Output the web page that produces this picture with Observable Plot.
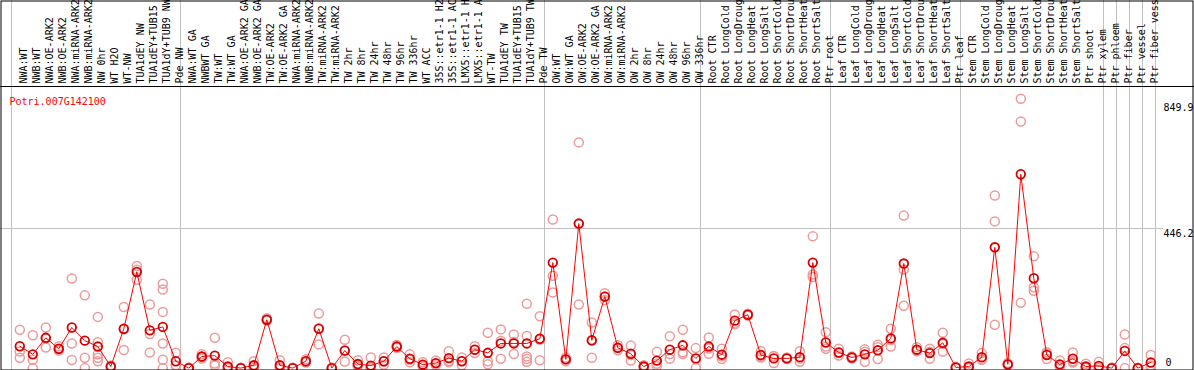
<!DOCTYPE html>
<html>
<head>
<meta charset="utf-8">
<script src="https://cdn.jsdelivr.net/npm/d3@7"></script>
<script src="https://cdn.jsdelivr.net/npm/@observablehq/plot@0.6"></script>
<style>
  html, body { margin: 0; padding: 0; background: #fff; }
</style>
</head>
<body>
<div id="chart"></div>
<script>
// ---------------- data ----------------
const geneId = "Potri.007G142100";

const sampleLabels = [
  "NWA:WT", "NWB:WT", "NWA:OE-ARK2", "NWB:OE-ARK2", "NWA:miRNA-ARK2", "NWB:miRNA-ARK2",
  "NW 0hr", "WT H2O", "WT-NW", "TUA1dEY NW", "TUA1dEY+TUB15", "TUA1dY+TUB9 NW", "Pde NW",
  "NWA:WT GA", "NWBWT GA", "TW:WT", "TW:WT GA", "NWA:OE-ARK2 GA", "NWB:OE-ARK2 GA",
  "TW:OE-ARK2", "TW:OE-ARK2 GA", "NWA:miRNA-ARK2", "NWB:miRNA-ARK2", "TW:miRNA-ARK2",
  "TW:miRNA-ARK2", "TW 2hr", "TW 8hr", "TW 24hr", "TW 48hr", "TW 96hr", "TW 336hr",
  "WT ACC", "35S::etr1-1 H2", "35S::etr1-1 AC", "LMX5::etr1-1 H", "LMX5::etr1-1 A",
  "WT-TW", "TUA1dEY TW", "TUA1dEY+TUB15", "TUA1dY+TUB9 TW", "Pde TW",
  "OW:WT", "OW:WT GA", "OW:OE-ARK2", "OW:OE-ARK2 GA", "OW:miRNA-ARK2", "OW:miRNA-ARK2",
  "OW 2hr", "OW 8hr", "OW 24hr", "OW 48hr", "OW 96hr", "OW 336hr",
  "Root CTR", "Root LongCold", "Root LongDroug", "Root LongHeat", "Root LongSalt",
  "Root ShortCold", "Root ShortDrou", "Root ShortHeat", "Root ShortSalt", "Ptr root",
  "Leaf CTR", "Leaf LongCold", "Leaf LongDroug", "Leaf LongHeat", "Leaf LongSalt",
  "Leaf ShortCold", "Leaf ShortDrou", "Leaf ShortHeat", "Leaf ShortSalt", "Ptr leaf",
  "Stem CTR", "Stem LongCold", "Stem LongDroug", "Stem LongHeat", "Stem LongSalt",
  "Stem ShortCold", "Stem ShortDrou", "Stem ShortHeat", "Stem ShortSalt", "Ptr shoot",
  "Ptr xylem", "Ptr phloem", "Ptr fiber", "Ptr vessel", "Ptr fiber vess"
];

const meanValues = [
  70, 44, 97, 62, 130, 88, 69, 5, 126, 308, 121, 132, 22,
  0, 37, 40, 5, 0, 9, 155, 9, 0, 22, 126, 0, 56, 13, 8, 22, 69, 30, 11, 16, 32, 22, 59, 49, 79, 79, 79, 94,
  338, 28, 463, 89, 229, 65, 46, 5, 24, 59, 73, 31,
  69, 43, 152, 171, 42, 31, 31, 35, 338, 82,
  50, 34, 44, 57, 95, 335, 59, 48, 81, 2,
  5, 35, 387, 12, 621, 288, 42, 12, 30, 5, 7,
  0, 55, 0, 18
];

const replicateValues = [
  [123, 53, 33], [105, 27, 0], [130, 66, 95], [70, 60, 56], [287, 79, 26], [233, 33, 0],
  [164, 83, 44, 33, 22], [8, 4, 3], [196, 58, 124], [327, 315, 283], [204, 50, 109],
  [270, 252, 180, 79, 27, 0], [49, 9, 8],
  [2, 0, 0], [44, 36, 31], [97, 15, 8], [19, 0, 0], [1, 0, 0], [22, 5, 0], [160, 153, 152],
  [25, 2, 0], [1, 0, 0], [28, 20, 18], [175, 76, 127], [1, 0, 0], [91, 21, 56], [25, 5, 9],
  [34, 0, 0, 0], [34, 11, 21], [74, 69, 64], [44, 19, 27], [19, 4, 10], [24, 9, 15],
  [54, 19, 23], [34, 9, 23], [70, 48, 59], [113, 22, 12], [124, 87, 30], [108, 45, 84],
  [206, 103, 37, 29, 20], [166, 25, 91],
  [476, 242, 296], [22, 34, 28], [723, 204, 462], [146, 33, 88], [240, 218, 229], [73, 57, 65],
  [72, 24, 42], [9, 3, 3], [52, 6, 14], [102, 30, 45], [123, 45, 51], [64, 0, 29],
  [98, 46, 63], [62, 29, 38], [172, 140, 144], [174, 168, 171], [54, 34, 38], [16, 39, 38],
  [29, 34, 30], [54, 20, 31], [422, 300, 292], [115, 62, 69],
  [62, 40, 48], [37, 31, 34], [60, 20, 52], [75, 29, 67], [126, 69, 90], [489, 316, 200],
  [67, 54, 56], [62, 30, 52], [113, 53, 77], [4, 2, 0],
  [15, 1, 0], [48, 27, 30], [553, 470, 139], [16, 9, 11], [863, 790, 209], [358, 259, 248],
  [46, 29, 51], [24, 7, 5], [50, 18, 22], [14, 1, 0], [20, 1, 0],
  [1, 0, 0], [108, 64, 0], [1, 0, 0], [42, 8, 4]
];

// first sample index of each group (last entry closes the final group)
const groupStarts = [0, 13, 41, 53, 63, 73, 84, 85, 86, 87, 88];

const yTicks = [0, 446.2, 849.9];
const yTickLabels = ["0", "446.2", "849.9"];
const yGridTicks = [446.2];

// ---------------- build ----------------
const samples = sampleLabels.map((label, i) => ({ i, label, mean: meanValues[i] }));
const reps = replicateValues.flatMap((vals, i) => vals.map(v => ({ i, v })));
const tickRows = yTicks.map((v, k) => ({ v, label: yTickLabels[k] }));

const W = 1194, H = 370;
const FONT = "'DejaVu Sans Mono', 'Liberation Mono', monospace";
const labelLineY = 86;

const labelSeparator = () => {
  const l = document.createElementNS("http://www.w3.org/2000/svg", "line");
  l.setAttribute("x1", 0);
  l.setAttribute("x2", W);
  l.setAttribute("y1", labelLineY + 0.5);
  l.setAttribute("y2", labelLineY + 0.5);
  l.setAttribute("stroke", "black");
  l.setAttribute("stroke-width", 1);
  return l;
};

const chart = Plot.plot({
  width: W,
  height: H,
  marginTop: 0, marginRight: 0, marginBottom: 0, marginLeft: 0,
  style: { fontFamily: FONT, fontSize: "10px", background: "white", overflow: "hidden" },
  x: { type: "linear", domain: [0, 87], insetLeft: 19.3, insetRight: 43.7, axis: null },
  y: { type: "linear", domain: [0, 849.9], insetTop: 102.3, insetBottom: 2.4, axis: null },
  marks: [
    // group separators
    Plot.ruleX(groupStarts, { x: s => s - 0.62, stroke: "#c0c0c0", strokeWidth: 1, shapeRendering: "crispEdges" }),
    // horizontal grid line
    Plot.ruleY(yGridTicks, { stroke: "#c0c0c0", strokeWidth: 1, insetRight: 31, shapeRendering: "crispEdges" }),
    // label area separator
    labelSeparator,
    // sample labels (vertical)
    Plot.text(samples, {
      x: "i", text: "label", frameAnchor: "top", dy: 83,
      rotate: -90, textAnchor: "start", fill: "black", fontSize: 10
    }),
    // gene id
    Plot.text([geneId], {
      text: d => d, frameAnchor: "top-left", dx: 9, dy: 97,
      textAnchor: "start", fill: "#ff0000", fontSize: 10
    }),
    // y tick labels
    Plot.text(tickRows.filter(d => d.v > 0), {
      y: "v", text: "label", frameAnchor: "right", dx: -31, dy: 4.7,
      textAnchor: "start", fill: "black", fontSize: 10
    }),
    Plot.text(tickRows.filter(d => d.v === 0), {
      y: "v", text: "label", frameAnchor: "right", dx: -29, dy: -5.6,
      textAnchor: "start", fill: "black", fontSize: 10
    }),
    // replicates
    Plot.dot(reps, { x: "i", y: "v", r: 4.5, stroke: "#ee9a9a", strokeWidth: 1.5, fill: "none" }),
    // mean line
    Plot.line(samples, { x: "i", y: "mean", stroke: "#ff0000", strokeWidth: 1 }),
    // mean dots
    Plot.dot(samples, { x: "i", y: "mean", r: 4.3, stroke: "#d40000", strokeWidth: 1.8, fill: "none" }),
    // outer frame
    Plot.frame({ stroke: "black", insetTop: 0.5, insetLeft: 0.5, insetRight: 1.5, insetBottom: 0.5 })
  ]
});

document.getElementById("chart").appendChild(chart);
</script>
</body>
</html>
